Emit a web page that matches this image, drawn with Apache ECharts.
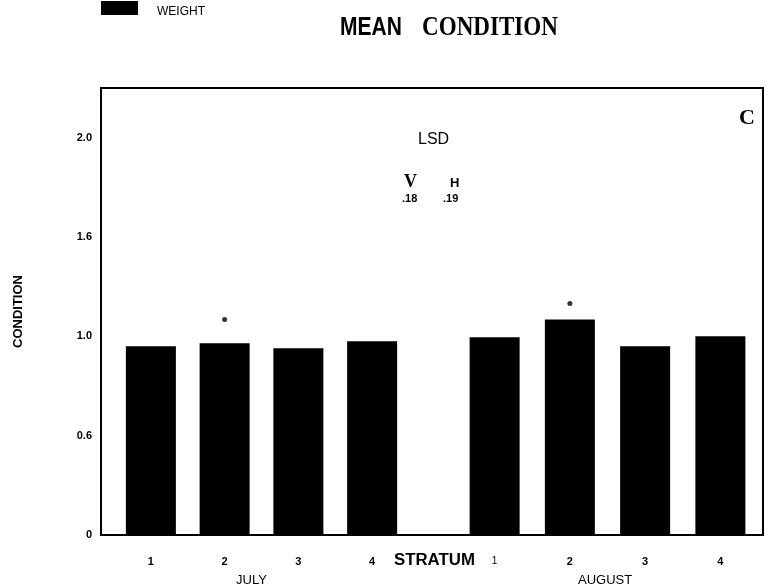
<!DOCTYPE html>
<html><head><meta charset="utf-8">
<script src="https://cdn.jsdelivr.net/npm/echarts@6/dist/echarts.min.js"></script>
<style>html,body{margin:0;padding:0;background:#fff}#c{width:767px;height:587px}</style>
</head><body><div id="c"></div>
<script>
const strata = ['1', '2', '3', '4'];
const julyCondition = [0.95, 0.965, 0.94, 0.975];
const augustCondition = [0.995, 1.085, 0.95, 1.0];
const julyMarks = [null, 1.085, null, null];
const augustMarks = [null, 1.165, null, null];
const yTickValues = [0, 0.5, 1.0, 1.5, 2.0];
const yTickLabels = ['0', '0.6', '1.0', '1.6', '2.0'];
const monthLabels = ['JULY', 'AUGUST'];
const lsd = { V: '.18', H: '.19' };

const TOP = 88, BOTTOM = 52, YMAX = 2.25;
const SANS = 'Liberation Sans, Arial, sans-serif';
const SERIF = 'Liberation Serif, Times New Roman, serif';

const chart = echarts.init(document.getElementById('c'), null, { renderer: 'canvas' });

const hiddenY = (gi) => ({ type: 'value', gridIndex: gi, min: 0, max: YMAX, show: false });
const stratumAxis = (gi, first) => ({
  type: 'category', gridIndex: gi, data: strata,
  axisLine: { show: false }, axisTick: { show: false },
  axisLabel: {
    margin: 21, color: '#000', fontFamily: SANS, fontSize: 11,
    formatter: (v, i) => (i === 0 && !first) ? '{n|' + v + '}' : '{b|' + v + '}',
    rich: { n: { fontWeight: 'normal', fontSize: 10, fontFamily: SANS }, b: { fontWeight: 'bold', fontSize: 11, fontFamily: SANS } }
  }
});

const txt = (x, y, text, font, extra) => Object.assign({
  type: 'text', x: x, y: y,
  style: { text: text, fill: '#000', font: font, textAlign: 'left', textVerticalAlign: 'middle' }
}, extra || {});

const option = {
  animation: false,
  backgroundColor: '#fff',
  grid: [
    { left: 114, width: 295, top: TOP, bottom: BOTTOM },
    { left: 457, width: 301, top: TOP, bottom: BOTTOM },
    { left: 101, right: 4, top: TOP, bottom: BOTTOM, show: true, borderColor: '#000', borderWidth: 2, backgroundColor: 'transparent' }
  ],
  xAxis: [
    stratumAxis(0, true),
    stratumAxis(1, false),
    { type: 'category', gridIndex: 2, data: [''], show: false }
  ],
  yAxis: [
    hiddenY(0), hiddenY(1),
    {
      type: 'value', gridIndex: 2, min: 0, max: YMAX, interval: 0.5,
      axisLine: { show: false }, axisTick: { show: false }, splitLine: { show: false },
      axisLabel: {
        margin: 9, color: '#000', fontFamily: SANS, fontSize: 11, fontWeight: 'bold',
        showMaxLabel: false,
        formatter: v => { const i = yTickValues.findIndex(t => Math.abs(t - v) < 1e-9); return i >= 0 ? yTickLabels[i] : ''; }
      },
      name: 'CONDITION', nameLocation: 'middle', nameRotate: 90, nameGap: 76,
      nameTextStyle: { color: '#000', fontFamily: SANS, fontSize: 13, fontWeight: 'bold' }
    }
  ],
  series: [
    { type: 'bar', xAxisIndex: 0, yAxisIndex: 0, data: julyCondition, barWidth: 50, itemStyle: { color: '#000' } },
    { type: 'scatter', xAxisIndex: 0, yAxisIndex: 0, data: julyMarks, symbol: 'circle', symbolSize: 5, itemStyle: { color: '#000' } },
    { type: 'bar', xAxisIndex: 1, yAxisIndex: 1, data: augustCondition, barWidth: 50, itemStyle: { color: '#000' } },
    { type: 'scatter', xAxisIndex: 1, yAxisIndex: 1, data: augustMarks, symbol: 'circle', symbolSize: 5, itemStyle: { color: '#000' } }
  ],
  graphic: [
    { type: 'rect', x: 101, y: 1, shape: { width: 37, height: 14 }, style: { fill: '#000' } },
    txt(157, 12, 'WEIGHT', '12px ' + SANS),
    txt(340, 28, 'MEAN', 'bold 25px ' + SANS, { scaleX: 0.84 }),
    txt(422, 28, 'CONDITION', 'bold 27px ' + SERIF, { scaleX: 0.855 }),
    txt(418, 140, 'LSD', '16px ' + SANS),
    txt(404, 182, 'V', 'bold 18px ' + SERIF),
    txt(450, 183, 'H', 'bold 13px ' + SANS),
    txt(402, 199, lsd.V, 'bold 11px ' + SANS),
    txt(443, 199, lsd.H, 'bold 11px ' + SANS),
    txt(739, 118, 'C', 'bold 22px ' + SERIF),
    txt(394, 561, 'STRATUM', 'bold 16px ' + SANS, { scaleX: 1.05 }),
    txt(236, 580, monthLabels[0], '13px ' + SANS),
    txt(578, 580, monthLabels[1], '13px ' + SANS)
  ]
};
chart.setOption(option);
</script></body></html>
